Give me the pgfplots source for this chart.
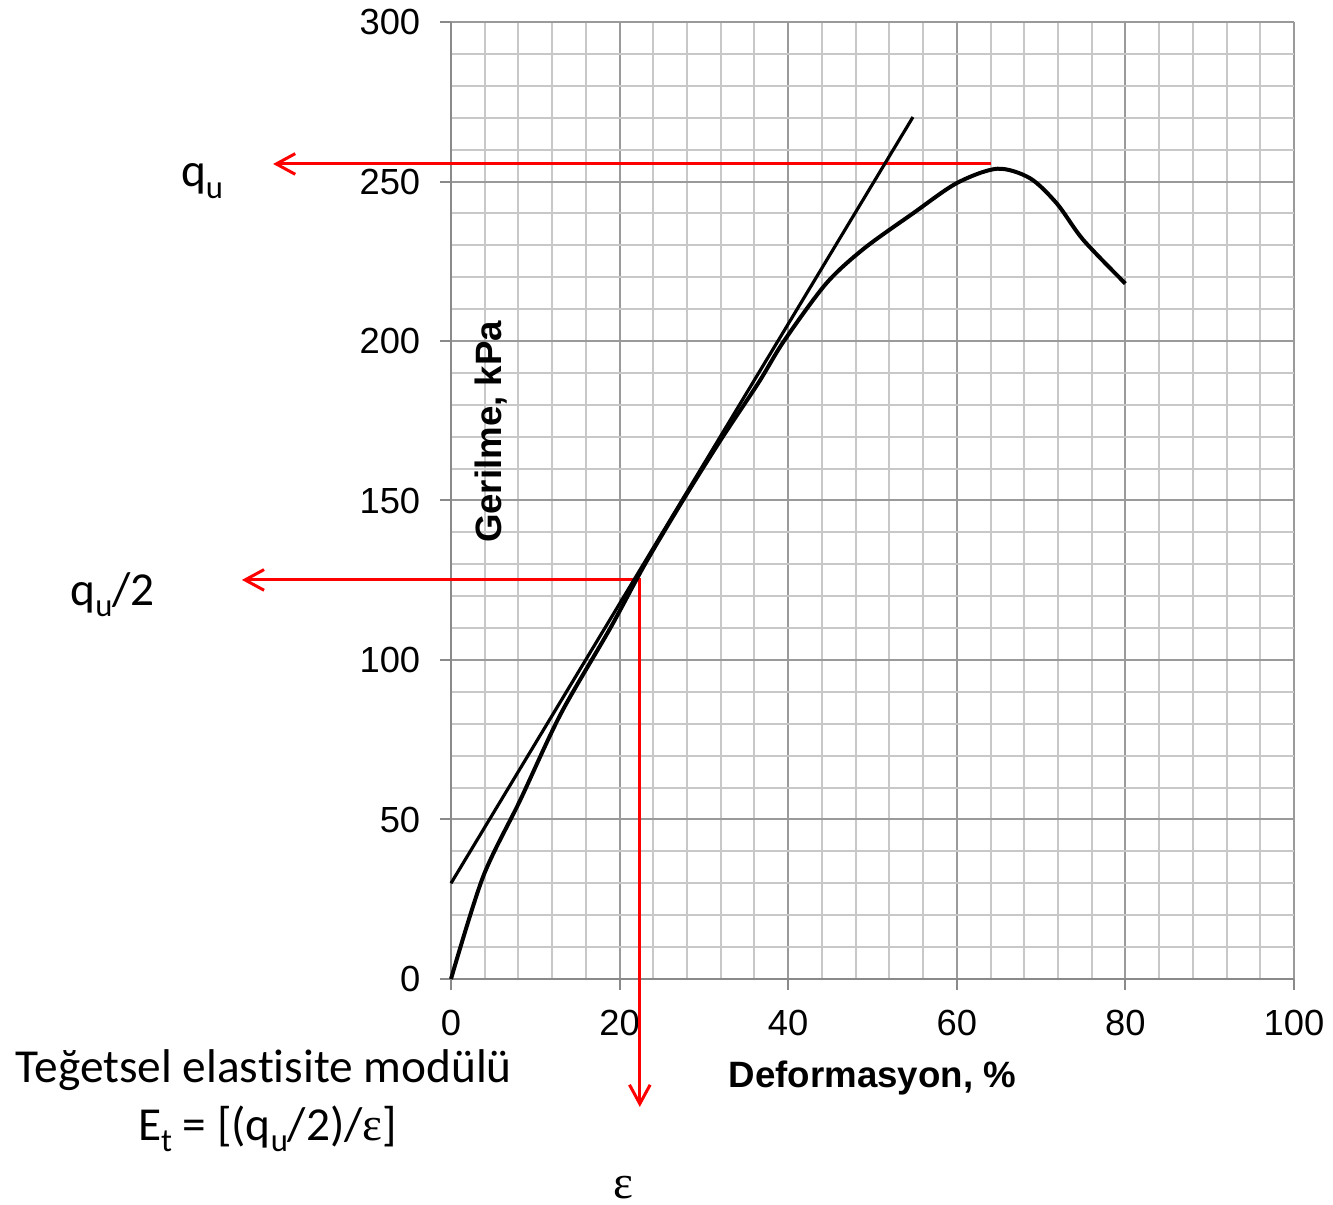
\documentclass[border=0pt]{standalone}
\usepackage{fontspec}
\setmainfont{Liberation Sans}
\newfontfamily\calfont[Ligatures=NoCommon]{Carlito}
\newfontfamily\serfont{Liberation Serif}
\usepackage{pgfplots}
\pgfplotsset{compat=1.18}
\usetikzlibrary{arrows.meta}
\definecolor{majgrid}{HTML}{9A9A9A}
\definecolor{mingrid}{HTML}{C8C8C8}
\definecolor{axgray}{HTML}{8A8A8A}
\newcommand{\sub}[1]{\raisebox{-3.4pt}{\fontsize{9.8}{12}\selectfont #1}}

\begin{document}
\begin{tikzpicture}
\begin{axis}[
    scale only axis,
    width=252.9pt, height=287.1pt,
    xmin=0, xmax=100, ymin=0, ymax=300,
    xtick={0,20,...,100}, ytick={0,50,...,300},
    minor x tick num=4, minor y tick num=4,
    grid=both,
    major grid style={majgrid, line width=0.6pt},
    minor grid style={mingrid, line width=0.6pt},
    axis x line=bottom, axis y line=left,
    axis line style={axgray, line width=0.6pt, -},
    tick align=outside,
    major tick length=3.3pt, minor tick length=0pt,
    tick style={axgray, line width=0.6pt},
    ticklabel style={font=\fontsize{10.9}{13}\selectfont},
    /pgf/number format/assume math mode=true,
    yticklabel style={xshift=-2.4pt},
    xticklabel style={yshift=-2.4pt},
    clip=false,
]
% red construction lines
\addplot[red, line width=0.9pt, -{Straight Barb[length=5.7pt,width=6.2pt]}]
    coordinates {(64.1,255.5) (-21.1,255.5)};
\addplot[red, line width=0.9pt,
    {Straight Barb[length=5.7pt,width=6.2pt]}-{Straight Barb[length=5.7pt,width=6.2pt]}]
    coordinates {(-24.8,125.1) (22.4,125.1) (22.4,-40.1)};

% tangent line
\addplot[black, line width=0.95pt] coordinates {(0,30) (54.8,270.2)};

% stress-strain curve
\addplot[black, line width=1.2pt, smooth, tension=0.5] coordinates {
    (0,0) (3.8,32) (8.2,56) (13,83) (18.9,110)
    (23,130) (27.5,150) (32,169) (36.5,187)
    (39.5,200) (44.5,218) (49,229) (54.8,240)
    (60,249.5) (64.8,254) (68.7,251) (71.9,243) (75,231.7) (80,218)
};

\node[anchor=base, rotate=90, inner sep=0pt, font=\bfseries\fontsize{11}{13}\selectfont]
    at (axis cs:6.0,171.5) {Gerilme, kPa};
\node[anchor=base, inner sep=0pt, font=\bfseries\fontsize{11}{13}\selectfont]
    at (axis cs:50.0,-33.9) {Deformasyon, \%};

\node[anchor=base west, inner sep=0pt, font=\calfont\fontsize{14.2}{17}\selectfont]
    at (axis cs:-32.1,248.3) {q\sub{u}};
\node[anchor=base west, inner sep=0pt, font=\calfont\fontsize{14.2}{17}\selectfont]
    at (axis cs:-45.2,117.2) {q\sub{u}/2};
\node[anchor=base west, inner sep=0pt, font=\calfont\fontsize{14.2}{17}\selectfont]
    at (axis cs:-51.7,-32.6) {Teğetsel elastisite modülü};
\node[anchor=base west, inner sep=0pt, font=\calfont\fontsize{14.2}{17}\selectfont]
    at (axis cs:-37.2,-50.5) {E\sub{t} = [(q\sub{u}/2)/{\serfont ε}]};
\node[anchor=base, inner sep=0pt, font=\serfont\fontsize{14.2}{17}\selectfont]
    at (axis cs:20.4,-68.7) {ε};

\coordinate (O) at (axis cs:0,0);
\end{axis}
\pgfresetboundingbox
\path ([shift={(-135.3pt,-67.8pt)}]O) rectangle ([shift={(264.6pt,293.7pt)}]O);
\end{tikzpicture}
\end{document}
